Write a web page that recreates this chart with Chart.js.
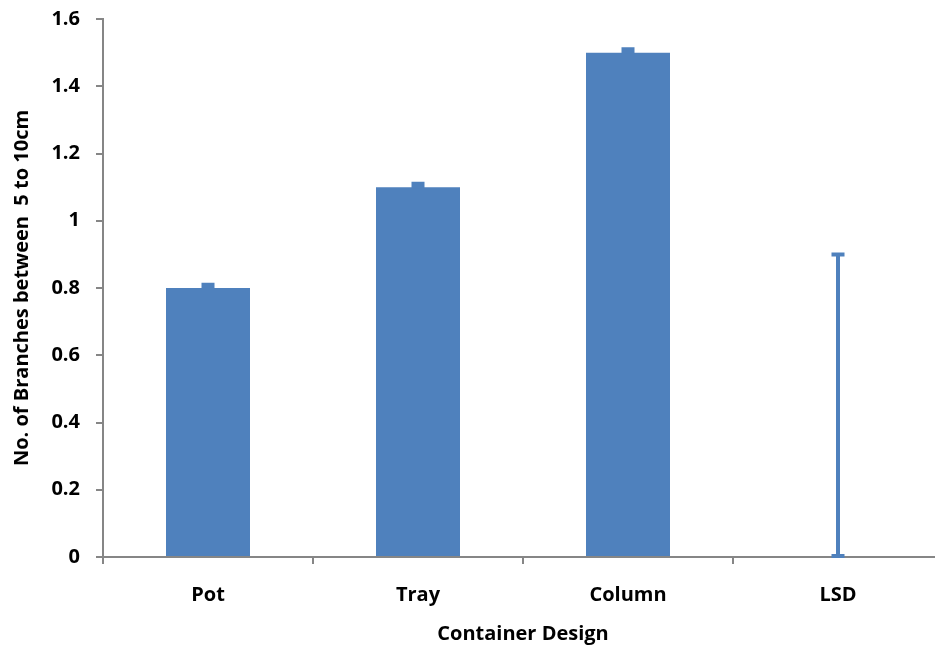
<!DOCTYPE html>
<html>
<head>
<meta charset="utf-8">
<script src="https://cdn.jsdelivr.net/npm/chart.js@4.4.1/dist/chart.umd.min.js"></script>
<style>
  html, body { margin: 0; padding: 0; background: #fff; overflow: hidden; }
  #wrap { position: relative; width: 943px; height: 651px; }
</style>
</head>
<body>
<div id="wrap"><canvas id="branchChart"></canvas></div>
<script>
// number of branches 5-10cm per container design
const designs = ['Pot', 'Tray', 'Column', 'LSD'];
const branches = [0.8, 1.1, 1.5, 0];
const errors = [0.01, 0.01, 0.01, 0.9];
const yTicks = [0, 0.2, 0.4, 0.6, 0.8, 1, 1.2, 1.4, 1.6];

const barBlue = '#4F81BD';
const axisGrey = '#868686';
const labelFont = { family: 'Open Sans', weight: 'bold', size: 20 };

// error bars with caps, drawn on top of the bars
const errorBars = {
    id: 'errorBars',
    afterDatasetsDraw(chart) {
        const ctx = chart.ctx;
        const meta = chart.getDatasetMeta(0);
        const y = chart.scales.y;
        ctx.save();
        ctx.strokeStyle = barBlue;
        ctx.lineWidth = 4;
        meta.data.forEach((bar, i) => {
            const x = bar.x;
            const yLow = y.getPixelForValue(branches[i]);
            const yHigh = y.getPixelForValue(branches[i] + errors[i]);
            ctx.beginPath();
            ctx.moveTo(x, yLow);
            ctx.lineTo(x, yHigh);
            ctx.moveTo(x - 6.5, yHigh);
            ctx.lineTo(x + 6.5, yHigh);
            ctx.moveTo(x - 6.5, yLow - 1);
            ctx.lineTo(x + 6.5, yLow - 1);
            ctx.stroke();
        });
        ctx.restore();
    }
};

new Chart(document.getElementById('branchChart'), {
    type: 'bar',
    data: {
        labels: designs,
        datasets: [{
            data: branches,
            backgroundColor: barBlue,
            barPercentage: 0.4,
            categoryPercentage: 1
        }]
    },
    options: {
        responsive: true,
        maintainAspectRatio: false,
        animation: false,
        layout: { padding: { top: 19, left: 0, right: 0, bottom: 0 } },
        plugins: {
            legend: { display: false },
            tooltip: { enabled: false }
        },
        scales: {
            x: {
                grid: {
                    offset: true,
                    drawOnChartArea: false,
                    color: axisGrey,
                    tickLength: 7,
                    lineWidth: 2
                },
                border: { color: axisGrey, width: 2 },
                ticks: { color: '#000', font: labelFont, padding: 19 },
                title: {
                    display: true,
                    text: 'Container Design',
                    color: '#000',
                    font: labelFont,
                    padding: { top: 0, bottom: 5 }
                },
                afterFit(scale) {
                    scale.height = 94;
                    scale.paddingLeft = 0;
                    scale.paddingRight = 0;
                }
            },
            y: {
                min: 0,
                max: 1.6,
                afterBuildTicks(scale) {
                    scale.ticks = yTicks.map(v => ({ value: v }));
                },
                grid: {
                    drawOnChartArea: false,
                    color: axisGrey,
                    tickLength: 7,
                    lineWidth: 2
                },
                border: { color: axisGrey, width: 2 },
                ticks: {
                    color: '#000',
                    font: labelFont,
                    padding: 16,
                    callback: v => String(v)
                },
                title: {
                    display: true,
                    text: 'No. of Branches between  5 to 10cm',
                    color: '#000',
                    font: labelFont,
                    padding: { top: 10, bottom: 0 }
                },
                afterFit(scale) {
                    scale.width = 103;
                    scale.paddingTop = 0;
                    scale.paddingBottom = 0;
                }
            }
        }
    },
    plugins: [errorBars]
});
</script>
</body>
</html>
